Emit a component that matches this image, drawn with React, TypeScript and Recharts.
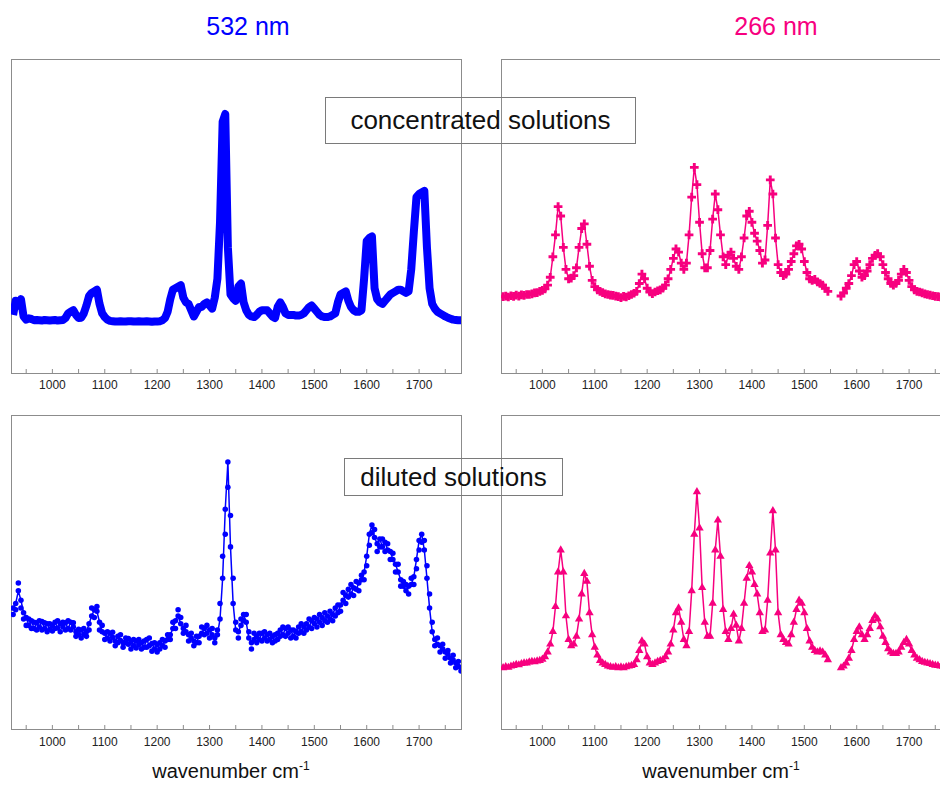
import React from "react";
import { ComposedChart, Line, Scatter, XAxis, YAxis, ZAxis } from "recharts";

// wavenumber grid (cm-1), 5 cm-1 apart
const wavenumbers = [
  925, 930, 935, 940, 945, 950, 955, 960, 965, 970,
  975, 980, 985, 990, 995, 1000, 1005, 1010, 1015, 1020,
  1025, 1030, 1035, 1040, 1045, 1050, 1055, 1060, 1065, 1070,
  1075, 1080, 1085, 1090, 1095, 1100, 1105, 1110, 1115, 1120,
  1125, 1130, 1135, 1140, 1145, 1150, 1155, 1160, 1165, 1170,
  1175, 1180, 1185, 1190, 1195, 1200, 1205, 1210, 1215, 1220,
  1225, 1230, 1235, 1240, 1245, 1250, 1255, 1260, 1265, 1270,
  1275, 1280, 1285, 1290, 1295, 1300, 1305, 1310, 1315, 1320,
  1325, 1330, 1335, 1340, 1345, 1350, 1355, 1360, 1365, 1370,
  1375, 1380, 1385, 1390, 1395, 1400, 1405, 1410, 1415, 1420,
  1425, 1430, 1435, 1440, 1445, 1450, 1455, 1460, 1465, 1470,
  1475, 1480, 1485, 1490, 1495, 1500, 1505, 1510, 1515, 1520,
  1525, 1530, 1535, 1540, 1545, 1550, 1555, 1560, 1565, 1570,
  1575, 1580, 1585, 1590, 1595, 1600, 1605, 1610, 1615, 1620,
  1625, 1630, 1635, 1640, 1645, 1650, 1655, 1660, 1665, 1670,
  1675, 1680, 1685, 1690, 1695, 1700, 1705, 1710, 1715, 1720,
  1725, 1730, 1735, 1740, 1745, 1750, 1755, 1760, 1765, 1770,
  1775, 1780,
];

// intensities, arbitrary units (0 = bottom of frame, 100 = top)
const conc532 = [
  18.5, 23.0, 21.5, 23.5, 18.0, 17.0, 17.4, 17.2, 16.8, 16.9,
  16.8, 16.7, 16.9, 16.8, 16.7, 16.8, 16.9, 16.7, 16.8, 16.9,
  17.5, 19.0, 19.5, 20.0, 18.5, 17.5, 17.6, 19.0, 21.5, 24.5,
  25.5, 26.0, 26.5, 22.0, 19.0, 17.8, 17.0, 16.6, 16.5, 16.4,
  16.4, 16.5, 16.4, 16.4, 16.5, 16.5, 16.4, 16.4, 16.5, 16.4,
  16.4, 16.5, 16.4, 16.3, 16.4, 16.4, 16.5, 16.8, 17.5, 19.5,
  23.5, 26.5, 27.0, 27.5, 28.0, 24.0, 22.5, 22.0, 20.0, 18.0,
  19.5, 21.0, 21.0, 22.0, 22.5, 21.5, 20.5, 24.0, 30.0, 48.0,
  80.0, 82.5, 40.0, 25.0, 23.8, 23.0, 27.5, 28.5, 22.5, 20.0,
  18.5, 18.0, 17.8, 18.5, 19.5, 20.0, 20.0, 20.0, 19.0, 18.0,
  17.5, 21.0, 22.5, 21.0, 19.0, 18.5, 18.5, 18.5, 18.3, 18.3,
  18.5, 19.0, 20.0, 21.0, 21.5, 20.5, 19.5, 18.5, 18.0, 17.8,
  17.8, 18.0, 18.5, 19.0, 22.5, 25.0, 25.5, 26.0, 23.0, 21.0,
  20.0, 19.5, 19.5, 20.0, 30.0, 42.0, 43.0, 43.5, 27.0, 23.5,
  22.5, 22.0, 23.0, 24.0, 25.0, 25.5, 26.0, 26.5, 26.5, 26.0,
  25.5, 26.0, 33.0, 45.0, 56.0, 57.0, 57.5, 58.0, 40.0, 27.0,
  22.0, 20.5, 19.5, 19.0, 18.5, 18.0, 17.6, 17.3, 17.0, 16.9,
  16.8, 16.8,
];

const conc266 = [
  24.3, 24.5, 24.2, 24.6, 24.4, 24.8, 24.5, 24.9, 24.7, 25.0,
  25.0, 25.2, 25.5, 25.6, 26.0, 26.3, 26.8, 28.0, 30.5, 37.0,
  44.0, 53.0, 50.0, 40.0, 33.0, 30.0, 30.2, 31.0, 33.5, 40.0,
  46.0, 47.5, 41.0, 34.0, 29.5, 27.5, 26.5, 26.0, 25.6, 25.2,
  25.0, 24.8, 24.7, 24.5, 24.3, 24.0, 24.4, 24.2, 24.6, 25.0,
  25.4, 26.0, 28.5, 31.5, 30.0, 27.0, 25.8, 25.3, 25.8, 26.2,
  26.5, 27.0, 28.0, 30.0, 33.0, 36.5, 39.5, 38.5, 35.0, 33.0,
  35.0, 44.0, 56.0, 65.5, 60.0, 48.0, 38.0, 33.5, 33.5, 39.0,
  49.0, 57.0, 52.0, 44.0, 37.0, 34.5, 37.5, 38.5, 36.5, 34.0,
  33.0, 37.0, 43.0, 50.0, 51.5, 48.0, 44.5, 42.0, 39.0, 35.0,
  36.0, 47.0, 61.5, 57.0, 43.0, 34.5, 32.0, 31.0, 31.5, 33.0,
  35.5, 38.0, 40.5, 41.0, 39.5, 35.5, 32.0, 30.0, 29.5, 29.8,
  29.0, 28.5, 28.0, 27.0, 26.0, null, null, null, null, 24.5,
  25.5, 27.0, 28.5, 31.0, 34.5, 35.5, 32.5, 30.5, 31.0, 32.5,
  34.5, 36.5, 37.5, 38.0, 37.0, 34.5, 32.0, 30.0, 28.5, 28.0,
  28.5, 29.5, 31.5, 33.0, 32.0, 29.5, 27.5, 26.5, 26.0, 25.8,
  25.5, 25.2, 25.0, 24.8, 24.6, 24.4, 24.3, 24.2, 24.1, 24.0,
  24.0, 24.0,
];

// diluted 532 nm is noisy: two readings per wavenumber
const dil532 = [
  38.5, 40.0, 44.0, 41.0, 37.0, 35.5, 33.0, 34.5, 32.0, 33.8,
  32.5, 34.2, 32.0, 33.5, 31.8, 33.0, 34.0, 32.2, 33.6, 32.5,
  33.8, 32.0, 34.0, 32.5, 31.0, 30.0, 31.5, 30.2, 31.0, 33.5,
  36.0, 38.0, 37.5, 34.0, 31.0, 30.5, 29.0, 30.5, 29.2, 28.0,
  29.5, 28.2, 27.5, 29.0, 27.0, 27.8, 26.5, 28.0, 26.8, 27.5,
  26.0, 28.5, 26.5, 27.2, 25.5, 26.8, 27.5, 26.5, 28.0, 28.5,
  30.0, 32.0, 34.5, 36.0, 33.5, 32.0, 31.0, 30.0, 29.0, 28.0,
  27.5, 29.5, 30.5, 32.0, 30.5, 31.5, 30.0, 29.0, 30.0, 35.0,
  48.0, 70.0, 85.0, 58.0, 40.0, 31.5, 31.0, 33.0, 36.5, 34.0,
  29.0, 27.5, 28.5, 29.5, 28.5, 30.5, 29.0, 30.0, 28.5, 29.5,
  28.0, 30.5, 31.5, 30.0, 32.0, 30.5, 31.5, 29.5, 31.0, 32.5,
  31.0, 32.5, 33.5, 32.5, 34.5, 33.5, 35.0, 34.0, 35.5, 34.5,
  36.0, 35.0, 36.5, 38.5, 37.0, 39.5, 41.0, 42.5, 44.5, 43.0,
  45.0, 44.5, 46.5, 47.5, 50.0, 55.0, 62.0, 65.0, 61.0, 59.0,
  60.5, 58.0, 59.5, 57.0, 56.5, 54.0, 52.5, 50.0, 47.5, 45.5,
  44.0, 45.5, 46.0, 48.5, 54.0, 60.0, 62.0, 57.0, 48.0, 38.5,
  31.0, 28.5, 27.0, 26.5, 25.5, 24.5, 23.8, 22.5, 22.0, 21.0,
  20.0, 19.5,
];

const dil532b = [
  36.5, 38.0, 46.5, 38.5, 35.0, 33.0, 35.0, 32.0, 34.0, 31.5,
  34.5, 31.5, 33.8, 31.0, 33.5, 31.2, 32.0, 34.5, 31.0, 34.0,
  31.5, 34.5, 31.5, 33.8, 29.5, 31.8, 29.0, 32.0, 29.5, 31.5,
  38.5, 35.5, 39.0, 31.5, 33.0, 28.5, 31.0, 28.0, 30.8, 26.5,
  27.5, 30.0, 26.0, 27.5, 28.8, 25.5, 28.5, 25.8, 28.5, 25.5,
  28.0, 26.0, 29.0, 24.8, 27.5, 24.5, 25.5, 28.5, 26.0, 30.0,
  28.5, 34.0, 32.0, 38.0, 35.5, 30.5, 33.0, 28.0, 30.5, 26.5,
  29.5, 27.5, 32.5, 30.0, 33.0, 29.0, 32.0, 27.5, 31.5, 40.0,
  55.0, 62.0, 77.0, 68.0, 48.0, 34.0, 29.0, 35.0, 34.5, 36.5,
  31.0, 25.5, 30.5, 27.5, 30.5, 28.0, 31.0, 28.0, 30.5, 27.5,
  30.0, 28.5, 29.5, 32.5, 29.5, 32.5, 29.0, 31.5, 29.0, 30.5,
  33.5, 30.5, 31.5, 35.0, 32.0, 35.5, 32.5, 36.5, 33.0, 37.0,
  34.0, 37.5, 34.5, 36.0, 39.5, 37.5, 43.5, 40.0, 42.0, 46.0,
  42.5, 47.0, 44.0, 49.0, 47.5, 52.0, 58.5, 62.5, 63.5, 56.5,
  58.0, 60.5, 56.5, 59.0, 54.0, 56.0, 50.0, 52.5, 45.5, 47.0,
  46.0, 43.0, 48.0, 46.0, 51.0, 57.0, 59.5, 60.0, 52.0, 43.0,
  34.0, 26.5, 29.0, 24.5, 27.0, 22.5, 25.0, 21.0, 23.5, 19.5,
  21.5, 18.5,
];

const dil266 = [
  19.5, 19.8, 19.6, 20.0, 20.2, 20.5, 20.4, 20.8, 21.0, 21.0,
  21.3, 21.5, 21.4, 21.6, 21.8, 22.2, 23.0, 24.5, 27.0, 31.0,
  39.0, 50.0, 57.0, 50.0, 36.0, 28.5, 26.5, 27.0, 29.5, 35.0,
  43.0, 49.5, 47.0, 37.0, 30.0, 26.0, 23.5, 21.8, 21.0, 20.5,
  20.0, 19.8, 19.6, 19.8, 19.5, 19.7, 19.5, 19.8, 20.0, 20.2,
  20.5, 22.0, 25.0, 28.0, 27.0, 23.0, 21.0, 20.5, 21.0, 21.5,
  21.8, 22.0, 23.0, 24.5, 27.0, 31.5, 37.0, 38.5, 34.0, 28.5,
  26.5, 31.0, 44.0, 62.0, 75.5, 64.0, 45.0, 34.0, 29.5, 29.5,
  40.0, 57.0, 66.5, 55.0, 38.0, 31.0, 28.5, 32.0, 36.5, 33.0,
  28.0, 32.0, 40.0, 48.0, 52.0, 50.0, 46.0, 43.0, 37.0, 31.0,
  31.5, 41.0, 56.0, 69.5, 57.0, 37.0, 30.0, 28.5, 27.5, 27.0,
  30.0, 34.0, 38.0, 41.0, 40.0, 37.0, 32.0, 28.0, 26.0, 25.0,
  24.5, 24.8, 24.5, 23.5, 22.0, null, null, null, null, 19.5,
  20.0, 21.0, 22.5, 25.0, 28.5, 31.0, 32.5, 30.0, 28.5, 30.0,
  32.0, 34.5, 36.0, 35.0, 32.5, 29.5, 27.5, 25.5, 24.5, 24.0,
  24.0, 24.5, 26.0, 27.5, 28.5, 27.0, 25.0, 23.5, 22.5, 22.0,
  21.5, 21.2, 21.0, 20.8, 20.5, 20.3, 20.2, 20.0, 19.9, 19.8,
  19.7, 19.6,
];

const tickValues = [
  950, 1000, 1050, 1100, 1150, 1200, 1250, 1300, 1350, 1400,
  1450, 1500, 1550, 1600, 1650, 1700, 1750,
];

const BLUE = "#0000ff";
const PINK = "#f7007f";
const FRAME = "#8c8c8c";
const PLOT_W = 450;
const PLOT_H = 314;

function toRows(values: (number | null)[], second?: (number | null)[]) {
  return wavenumbers.map((w, i) => ({
    w,
    v: values[i],
    v2: second ? second[i] : null,
  }));
}

function makeTick(labelDy: number) {
  return (props: any) => {
    const { x, y, payload } = props;
    const major = payload.value % 100 === 0;
    return (
      <g>
        <line x1={x} x2={x} y1={y} y2={y - 4} stroke={FRAME} />
        {major && (
          <text
            x={x}
            y={y + labelDy}
            textAnchor="middle"
            fontSize={12}
            fill="#222"
            fontFamily="Arial, 'Liberation Sans', sans-serif"
          >
            {payload.value}
          </text>
        )}
      </g>
    );
  };
}

function Panel({
  left,
  top,
  values,
  second,
  kind,
  color,
  labelDy,
}: {
  left: number;
  top: number;
  values: (number | null)[];
  second?: (number | null)[];
  kind: "line" | "circle" | "cross" | "triangle";
  color: string;
  labelDy: number;
}) {
  const rows = toRows(values, second);
  const size = kind === "circle" ? 24 : kind === "cross" ? 42 : 30;
  const lineWidth = kind === "line" ? 8 : 1.5;
  return (
    <>
      <div
        style={{
          position: "absolute",
          left,
          top,
          width: PLOT_W + 1,
          height: PLOT_H + 1,
          border: `1px solid ${FRAME}`,
          boxSizing: "border-box",
        }}
      />
      <div style={{ position: "absolute", left, top }}>
        <ComposedChart
          width={PLOT_W}
          height={PLOT_H + 31}
          data={rows}
          margin={{ top: 0, right: 0, bottom: 0, left: 0 }}
        >
          <XAxis
            dataKey="w"
            type="number"
            domain={[921, 1780]}
            allowDataOverflow
            ticks={tickValues}
            interval={0}
            height={31}
            tickSize={0}
            tickMargin={0}
            tickLine={false}
            axisLine={false}
            tick={makeTick(labelDy)}
          />
          <YAxis type="number" domain={[0, 100]} hide />
          <ZAxis range={[size, size]} />
          <Line
            dataKey="v"
            stroke={color}
            strokeWidth={lineWidth}
            strokeLinejoin="round"
            dot={false}
            isAnimationActive={false}
          />
          {kind !== "line" && (
            <Scatter
              dataKey="v"
              fill={color}
              shape={kind}
              isAnimationActive={false}
            />
          )}
          {second && (
            <Scatter
              dataKey="v2"
              fill={color}
              shape={kind}
              isAnimationActive={false}
            />
          )}
        </ComposedChart>
      </div>
    </>
  );
}

const boxStyle: React.CSSProperties = {
  position: "absolute",
  border: "1px solid #7a7a7a",
  boxSizing: "border-box",
  fontSize: 26,
  color: "#111",
  display: "flex",
  alignItems: "center",
  justifyContent: "center",
};

const axisTitle: React.CSSProperties = {
  position: "absolute",
  width: 300,
  textAlign: "center",
  fontSize: 20,
  color: "#111",
  top: 759,
};

export default function App() {
  return (
    <div
      style={{
        position: "absolute",
        left: 0,
        top: 0,
        width: 940,
        height: 785,
        overflow: "hidden",
        background: "#fff",
        fontFamily: "Arial, 'Liberation Sans', sans-serif",
      }}
    >
      <div style={{ position: "absolute", left: 148, top: 12, width: 200, textAlign: "center", fontSize: 25, color: BLUE }}>
        532 nm
      </div>
      <div style={{ position: "absolute", left: 676, top: 12, width: 200, textAlign: "center", fontSize: 25, color: PINK }}>
        266 nm
      </div>

      <Panel left={11} top={59} values={conc532} kind="line" color={BLUE} labelDy={16} />
      <Panel left={501} top={59} values={conc266} kind="cross" color={PINK} labelDy={16} />
      <Panel left={11} top={415} values={dil532} second={dil532b} kind="circle" color={BLUE} labelDy={17} />
      <Panel left={501} top={415} values={dil266} kind="triangle" color={PINK} labelDy={17} />

      <div style={{ ...boxStyle, left: 325, top: 97, width: 311, height: 47 }}>
        concentrated solutions
      </div>
      <div style={{ ...boxStyle, left: 344, top: 458, width: 219, height: 38 }}>
        diluted solutions
      </div>

      <div style={{ ...axisTitle, left: 81 }}>
        wavenumber cm<sup style={{ fontSize: 12 }}>-1</sup>
      </div>
      <div style={{ ...axisTitle, left: 571 }}>
        wavenumber cm<sup style={{ fontSize: 12 }}>-1</sup>
      </div>
    </div>
  );
}
